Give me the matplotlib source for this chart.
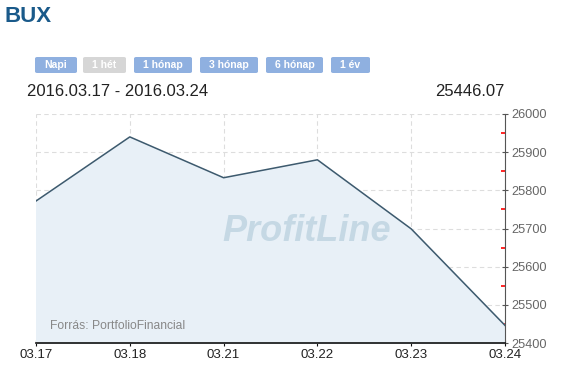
import matplotlib.pyplot as plt
from matplotlib.patches import FancyBboxPatch

plt.rcParams['font.family'] = ['Liberation Sans', 'DejaVu Sans']

dates = ['03.17', '03.18', '03.21', '03.22', '03.23', '03.24']
values = [25772, 25940, 25833, 25880, 25699, 25446.07]
y_ticks = [25400, 25500, 25600, 25700, 25800, 25900, 26000]
buttons = ['Napi', '1 hét', '1 hónap', '3 hónap', '6 hónap', '1 év']
button_x = [35, 83, 134, 200, 266, 331]
button_w = [42, 43, 58, 58, 57, 39]

W, H = 573, 380
fig = plt.figure(figsize=(W / 100, H / 100), dpi=100)
fig.patch.set_facecolor('white')

ax = fig.add_axes([36 / W, (H - 343) / H, (505 - 36) / W, (343 - 114) / H])
x = list(range(len(dates)))
ax.fill_between(x, values, 25400, color='#e8f0f7', zorder=1)
ax.plot(x, values, color='#3d5a6e', lw=1.1, zorder=3)

ax.set_xlim(0, len(dates) - 1)
ax.set_ylim(25400, 26000)
ax.set_xticks(x)
ax.set_xticklabels(dates, fontsize=9.5, color='#222222')
ax.set_yticks(y_ticks)
ax.set_yticks([25450, 25550, 25650, 25750, 25850, 25950], minor=True)
ax.yaxis.tick_right()
ax.tick_params(axis='y', which='major', labelsize=9.2, labelcolor='#666666',
               color='#555555', length=5, direction='inout', pad=2)
ax.tick_params(axis='y', which='minor', color='#ff0000', length=3, width=1.2,
               direction='in')
ax.tick_params(axis='x', color='#111111', length=4, direction='inout', pad=2)
ax.grid(True, color='#dddddd', ls=(0, (4, 3)), lw=0.8, zorder=0)
ax.set_axisbelow(True)
for s in ['top', 'left']:
    ax.spines[s].set_visible(False)
ax.spines['right'].set_color('#555555')
ax.spines['bottom'].set_color('#111111')
ax.spines['bottom'].set_linewidth(1.2)

ax.text(0.578, 0.485, 'ProfitLine', transform=ax.transAxes, ha='center', va='center',
        fontsize=26, fontweight='bold', style='italic', color='#c5d8e4', zorder=2)
ax.text(0.03, 0.06, 'Forrás: PortfolioFinancial', transform=ax.transAxes,
        fontsize=8.7, color='#888888', zorder=4)

# header
fig.text(5 / W, 1 - 17 / H, 'BUX', fontsize=16, fontweight='bold', color='#1a5a8a',
         va='center', ha='left')
for lab, bx, bw in zip(buttons, button_x, button_w):
    active = lab != '1 hét'
    fc = '#8fb0e0' if active else '#d6d6d6'
    fig.patches.append(FancyBboxPatch((bx / W, 1 - 73 / H), bw / W, 16 / H,
                                      boxstyle='round,pad=0,rounding_size=0.004',
                                      transform=fig.transFigure, fc=fc, ec='none'))
    fig.text((bx + bw / 2) / W, 1 - 65 / H, lab, fontsize=7.5, fontweight='bold',
             color='white', ha='center', va='center')
fig.text(27 / W, 1 - 92 / H, '2016.03.17 - 2016.03.24', fontsize=12, color='#222222',
         va='center', ha='left')
fig.text(505 / W, 1 - 92 / H, '25446.07', fontsize=12, color='#222222',
         va='center', ha='right')

fig.savefig('out.png', dpi=100)
